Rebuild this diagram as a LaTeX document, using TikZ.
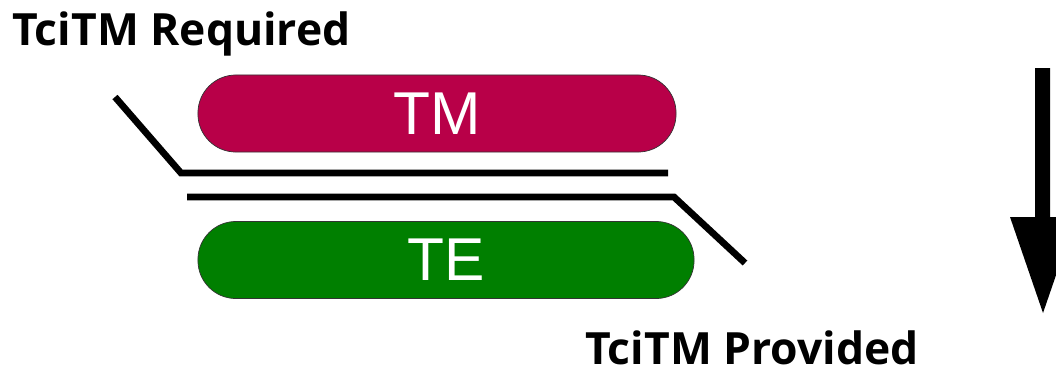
\documentclass[tikz,border=0pt]{standalone}
\usepackage{fontspec}
\setmainfont{Liberation Sans}
\newfontfamily\labfont{Open Sans}
\usetikzlibrary{positioning}
\definecolor{tmred}{RGB}{184,0,72}
\definecolor{tegreen}{RGB}{0,127,0}
\tikzset{pill/.style={draw=black!80,line width=0.5pt,rounded corners=27pt,
                      minimum height=54.8pt,text=white,
                      font=\fontsize{43}{43}\selectfont}}
\tikzset{rail/.style={line width=4.8pt}}

\begin{document}
\begin{tikzpicture}[x=0.025cm,y=-0.025cm]

\tikzstyle{lab}=[anchor=base west,inner sep=0pt,font=\labfont\bfseries\fontsize{31.6}{31.6}\selectfont]

 \useasboundingbox (0,0) rectangle (1056,369);

 \node[pill,fill=tmred,minimum width=340pt] (tm) at (437,113.5) {TM};
 \node[pill,fill=tegreen,minimum width=352.8pt] (te) at (446,260) {TE};

 \node[lab] (req) at (12,45) {TciTM Required};
 \node[lab] (prov) at (585,364) {TciTM Provided};

 % upper rail
 \coordinate (ua) at (115,97);
 \coordinate (ub) at (181,173);
 \coordinate (uc) at (668,173);
 \draw[rail] (ua) -- (ub) -- (uc);

 % lower rail
 \coordinate (la) at (187,197);
 \coordinate (lb) at (674,197);
 \coordinate (lc) at (745,263);
 \draw[rail] (la) -- (lb) -- (lc);

 % direction arrow
 \fill (1035,68) -- (1050,68) -- (1050,217) -- (1076,217) -- (1043,313)
       -- (1010,217) -- (1035,217) -- cycle;

\end{tikzpicture}
\end{document}
